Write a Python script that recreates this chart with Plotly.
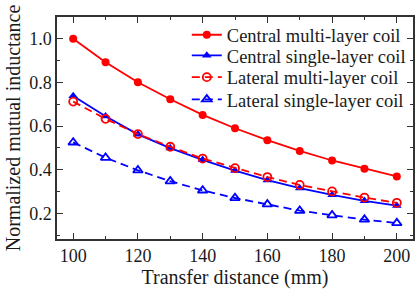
import plotly.graph_objects as go

distance = [100, 110, 120, 130, 140, 150, 160, 170, 180, 190, 200]
central_multi = [1.0, 0.893, 0.801, 0.723, 0.651, 0.590, 0.535, 0.486, 0.442, 0.404, 0.369]
central_single = [0.738, 0.645, 0.562, 0.499, 0.445, 0.396, 0.352, 0.315, 0.284, 0.257, 0.235]
lateral_multi = [0.712, 0.633, 0.563, 0.505, 0.451, 0.407, 0.366, 0.330, 0.300, 0.272, 0.248]
lateral_single = [0.525, 0.455, 0.397, 0.347, 0.305, 0.270, 0.241, 0.212, 0.191, 0.171, 0.155]

RED = "#ff0000"
BLUE = "#0000ff"
FONT = "Liberation Serif, Times New Roman, serif"
TXT = "#1a1a1a"

fig = go.Figure()
fig.add_trace(go.Scatter(x=distance, y=central_multi, name="Central multi-layer coil",
                         mode="lines+markers", line=dict(color=RED, width=1.8), legend="legend",
                         marker=dict(symbol="circle", size=8, color=RED)))
fig.add_trace(go.Scatter(x=distance, y=central_single, name="Central single-layer coil",
                         mode="lines+markers", line=dict(color=BLUE, width=1.8), legend="legend2",
                         marker=dict(symbol="triangle-up", size=8.5, color=BLUE)))
fig.add_trace(go.Scatter(x=distance, y=lateral_multi, name="Lateral multi-layer coil",
                         mode="lines+markers", line=dict(color=RED, width=1.8, dash="8px,5px"), legend="legend3",
                         marker=dict(symbol="circle-open", size=8, color=RED, line=dict(width=1.8))))
fig.add_trace(go.Scatter(x=distance, y=lateral_single, name="Lateral single-layer coil",
                         mode="lines+markers", line=dict(color=BLUE, width=1.8, dash="8px,5px"), legend="legend4",
                         marker=dict(symbol="triangle-up-open", size=8.5, color=BLUE, line=dict(width=1.8))))

axis_common = dict(showline=True, linecolor="#333333", linewidth=1.5, mirror="ticks",
                   ticks="inside", ticklen=6, tickwidth=1.3, tickcolor="#333333",
                   showgrid=False, zeroline=False,
                   tickfont=dict(family=FONT, size=18, color=TXT))

def leg(y):
    return dict(x=0.3646, y=y, xanchor="left", yanchor="middle",
                bgcolor="rgba(0,0,0,0)", borderwidth=0,
                font=dict(family=FONT, size=18.5, color=TXT), itemwidth=30)

fig.update_layout(
    width=416, height=291,
    margin=dict(l=57, r=3, t=17, b=52),
    paper_bgcolor="white", plot_bgcolor="white",
    font=dict(family=FONT, color=TXT),
    showlegend=True,
    legend=leg(0.918), legend2=leg(0.825), legend3=leg(0.727), legend4=leg(0.627),
    xaxis=dict(range=[95, 205], tickvals=[100, 120, 140, 160, 180, 200],
               minor=dict(tickvals=[110, 130, 150, 170, 190], ticks="inside", ticklen=3.5,
                          tickcolor="#333333", tickwidth=1.3),
               title=dict(text="Transfer distance (mm)", font=dict(family=FONT, size=20, color=TXT),
                          standoff=4),
               automargin=False, **axis_common),
    yaxis=dict(range=[0.082, 1.1], tickvals=[0.2, 0.4, 0.6, 0.8, 1.0], ticktext=["0.2", "0.4", "0.6", "0.8", "1.0"],
               minor=dict(tickvals=[0.1, 0.3, 0.5, 0.7, 0.9], ticks="inside", ticklen=3.5,
                          tickcolor="#333333", tickwidth=1.3),
               title=dict(text="Normalized mutual inductance", font=dict(family=FONT, size=20, color=TXT),
                          standoff=3),
               automargin=False, **axis_common),
)

fig.write_html("out.html", config={"displayModeBar": False},
               post_script="document.body.style.margin='0';document.body.style.overflow='hidden';")
